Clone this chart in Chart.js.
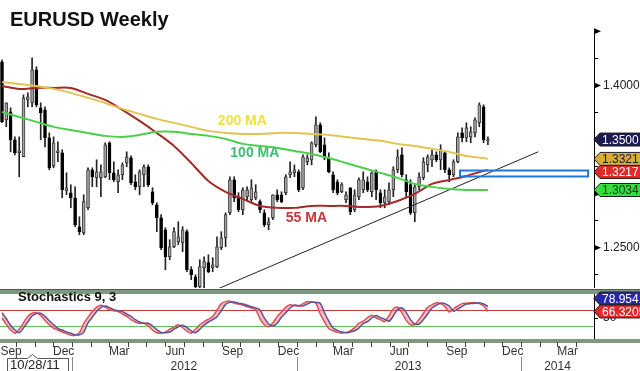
<!DOCTYPE html>
<html>
<head>
<meta charset="utf-8">
<script src="https://cdn.jsdelivr.net/npm/chart.js@4.4.1/dist/chart.umd.min.js"></script>
<style>
  html, body { margin: 0; padding: 0; background: #fff; }
  #wrap { position: relative; width: 640px; height: 371px; overflow: hidden; font-family: "Liberation Sans", Arial, sans-serif; }
  #main { position: absolute; left: 0; top: 0; }
  #stoch { position: absolute; left: 0; top: 288px; }
  .title { position: absolute; left: 10px; top: 9px; font-size: 20px; line-height: 20px; font-weight: bold; color: #111; }
  .stlabel { position: absolute; left: 18px; top: 290px; font-size: 13px; line-height: 13px; font-weight: bold; color: #111; }
</style>
</head>
<body>
<div id="wrap">
  <canvas id="main" width="640" height="288"></canvas>
  <canvas id="stoch" width="640" height="83"></canvas>
  <div class="title">EURUSD Weekly</div>
  <div class="stlabel">Stochastics 9, 3</div>
</div>
<script>
// weekly candles, first one is the week ending Fri 9 Sep 2011
const candleOpen = [
  1.4218, 1.3682, 1.3756, 1.3498, 1.3378, 1.3341, 1.3867, 1.3839, 1.4144, 1.3793,
  1.3775, 1.3516, 1.3258, 1.3378, 1.3378, 1.3027, 1.3009, 1.2962, 1.2695, 1.2639,
  1.2870, 1.3221, 1.3147, 1.3147, 1.3156, 1.3470, 1.3193, 1.3110, 1.3175, 1.3285,
  1.3332, 1.3110, 1.3064, 1.3175, 1.3249, 1.3018, 1.2898, 1.2778, 1.2667, 1.2418,
  1.2510, 1.2556, 1.2547, 1.2649, 1.2298, 1.2233, 1.2141, 1.2316, 1.2363, 1.2316,
  1.2326, 1.2501, 1.2593, 1.2824, 1.3129, 1.2972, 1.2852, 1.2972, 1.2944, 1.2962,
  1.2926, 1.2824, 1.2713, 1.2778, 1.2990, 1.2990, 1.3009, 1.3175, 1.3193, 1.3202,
  1.3055, 1.3295, 1.3313, 1.3452, 1.3636, 1.3452, 1.3332, 1.3175, 1.3110, 1.3018,
  1.2944, 1.3055, 1.2852, 1.2972, 1.3036, 1.3110, 1.3018, 1.3202, 1.3009, 1.2916,
  1.2926, 1.3036, 1.3221, 1.3359, 1.3129, 1.3083, 1.2824, 1.3064, 1.3147, 1.3267,
  1.3313, 1.3359, 1.3313, 1.3378, 1.3221, 1.3175, 1.3295, 1.3562, 1.3516, 1.3525,
  1.3562, 1.3655, 1.3802, 1.3490
];
const candleHigh = [
  1.4236, 1.3839, 1.3793, 1.3525, 1.3525, 1.3913, 1.3932, 1.4255, 1.4172, 1.3839,
  1.3802, 1.3562, 1.3525, 1.3479, 1.3406, 1.3193, 1.3083, 1.3064, 1.2787, 1.2990,
  1.3239, 1.3239, 1.3313, 1.3267, 1.3470, 1.3479, 1.3295, 1.3221, 1.3285, 1.3387,
  1.3350, 1.3175, 1.3221, 1.3267, 1.3267, 1.3055, 1.2916, 1.2806, 1.2686, 1.2575,
  1.2686, 1.2741, 1.2695, 1.2667, 1.2326, 1.2252, 1.2390, 1.2418, 1.2436, 1.2409,
  1.2602, 1.2649, 1.2824, 1.3156, 1.3156, 1.3009, 1.3055, 1.3064, 1.3129, 1.3083,
  1.2944, 1.2852, 1.2778, 1.2990, 1.3036, 1.3018, 1.3175, 1.3295, 1.3267, 1.3221,
  1.3359, 1.3359, 1.3479, 1.3710, 1.3655, 1.3516, 1.3378, 1.3202, 1.3129, 1.3101,
  1.3018, 1.3055, 1.3036, 1.3147, 1.3202, 1.3156, 1.3202, 1.3221, 1.3036, 1.3036,
  1.3101, 1.3249, 1.3406, 1.3424, 1.3175, 1.3129, 1.3083, 1.3193, 1.3332, 1.3359,
  1.3406, 1.3387, 1.3452, 1.3387, 1.3239, 1.3313, 1.3562, 1.3609, 1.3655, 1.3618,
  1.3701, 1.3839, 1.3821, 1.3525
];
const candleLow = [
  1.3655, 1.3618, 1.3387, 1.3359, 1.3156, 1.3341, 1.3802, 1.3802, 1.3802, 1.3498,
  1.3433, 1.3221, 1.3239, 1.3295, 1.2962, 1.2990, 1.2870, 1.2695, 1.2621, 1.2621,
  1.2852, 1.3064, 1.3064, 1.2972, 1.3147, 1.3129, 1.3110, 1.3009, 1.3129, 1.3249,
  1.3083, 1.3036, 1.2990, 1.3064, 1.3064, 1.2898, 1.2649, 1.2483, 1.2298, 1.2390,
  1.2501, 1.2529, 1.2464, 1.2279, 1.2206, 1.2095, 1.2042, 1.2113, 1.2270, 1.2279,
  1.2316, 1.2483, 1.2510, 1.2806, 1.2926, 1.2833, 1.2806, 1.2944, 1.2926, 1.2944,
  1.2824, 1.2695, 1.2667, 1.2759, 1.2926, 1.2916, 1.2990, 1.3147, 1.3156, 1.3018,
  1.3036, 1.3267, 1.3267, 1.3433, 1.3378, 1.3313, 1.3193, 1.3009, 1.2990, 1.3009,
  1.2916, 1.2806, 1.2833, 1.2944, 1.3009, 1.3018, 1.2972, 1.2944, 1.2870, 1.2870,
  1.2898, 1.2972, 1.3193, 1.3156, 1.2972, 1.2806, 1.2741, 1.3036, 1.3129, 1.3202,
  1.3249, 1.3295, 1.3221, 1.3193, 1.3110, 1.3156, 1.3285, 1.3479, 1.3479, 1.3470,
  1.3525, 1.3618, 1.3470, 1.3452
];
const candleClose = [
  1.3664, 1.3839, 1.3498, 1.3378, 1.3396, 1.3885, 1.3895, 1.4144, 1.3821, 1.3747,
  1.3516, 1.3239, 1.3470, 1.3396, 1.3036, 1.3055, 1.2962, 1.2713, 1.2649, 1.2926,
  1.3221, 1.3156, 1.3202, 1.3202, 1.3452, 1.3193, 1.3129, 1.3175, 1.3267, 1.3341,
  1.3101, 1.3064, 1.3202, 1.3249, 1.3083, 1.2916, 1.2778, 1.2501, 1.2418, 1.2510,
  1.2649, 1.2602, 1.2667, 1.2298, 1.2252, 1.2141, 1.2326, 1.2372, 1.2279, 1.2344,
  1.2510, 1.2593, 1.2806, 1.3129, 1.2962, 1.2852, 1.3036, 1.3036, 1.3055, 1.3018,
  1.2852, 1.2713, 1.2741, 1.2990, 1.2944, 1.2926, 1.3156, 1.3202, 1.3221, 1.3036,
  1.3341, 1.3332, 1.3470, 1.3636, 1.3387, 1.3332, 1.3202, 1.3036, 1.3009, 1.3083,
  1.2990, 1.2833, 1.2990, 1.3129, 1.3129, 1.3036, 1.3193, 1.3036, 1.2916, 1.2972,
  1.3036, 1.3221, 1.3341, 1.3175, 1.3018, 1.2824, 1.3064, 1.3156, 1.3295, 1.3341,
  1.3359, 1.3313, 1.3406, 1.3221, 1.3175, 1.3295, 1.3525, 1.3516, 1.3609, 1.3572,
  1.3682, 1.3821, 1.3498, 1.3500
];

// moving averages read every 4th week
const maWeeks = [0, 4, 8, 12, 16, 20, 24, 28, 32, 36, 40, 44, 48, 52, 56, 60, 64, 68, 72, 76,
  80, 84, 88, 92, 96, 100, 104, 108, 112, 113];
const ma200 = [1.4032, 1.4014, 1.3995, 1.3968, 1.3931, 1.3885, 1.3838, 1.3783, 1.3737, 1.3691,
  1.3654, 1.3617, 1.3580, 1.3561, 1.3552, 1.3552, 1.3561, 1.3561, 1.3552, 1.3543,
  1.3524, 1.3506, 1.3488, 1.3460, 1.3441, 1.3414, 1.3386, 1.3349, 1.3330, 1.3321];
const ma100 = [1.3755, 1.3709, 1.3663, 1.3617, 1.3588, 1.3561, 1.3534, 1.3524, 1.3543, 1.3571,
  1.3571, 1.3552, 1.3534, 1.3506, 1.3460, 1.3441, 1.3423, 1.3395, 1.3367, 1.3330,
  1.3284, 1.3238, 1.3192, 1.3146, 1.3090, 1.3063, 1.3044, 1.3035, 1.3035, 1.3034];
const ma55 = [1.3995, 1.3968, 1.3977, 1.3977, 1.3977, 1.3922, 1.3866, 1.3774, 1.3672, 1.3561,
  1.3441, 1.3284, 1.3118, 1.3017, 1.2952, 1.2887, 1.2869, 1.2869, 1.2887, 1.2887,
  1.2887, 1.2878, 1.2887, 1.2933, 1.2998, 1.3090, 1.3127, 1.3164, 1.3211, 1.3217];

// stochastics 9,3 (slow and fast line), one value per candle
const stochSlow = [
  63, 48, 32, 20, 13, 25, 40, 55, 61, 62, 54, 43, 33, 24, 20, 15, 12, 8, 8, 14,
  38, 52, 66, 76, 80, 76, 71, 68, 66, 60, 54, 46, 40, 37, 37, 30, 21, 14, 13, 15,
  22, 28, 32, 26, 18, 13, 22, 32, 40, 46, 53, 68, 84, 89, 90, 87, 85, 82, 78, 75,
  70, 50, 35, 30, 37, 52, 63, 75, 82, 81, 80, 85, 90, 89, 87, 63, 42, 25, 19, 15,
  13, 15, 18, 25, 36, 41, 50, 56, 51, 47, 42, 55, 71, 75, 64, 46, 35, 35, 46, 60,
  75, 82, 87, 86, 80, 67, 72, 79, 85, 86, 87, 88, 85, 78.9541
];
const stochFast = [
  50, 34, 20, 12, 22, 38, 54, 62, 63, 56, 44, 33, 24, 20, 15, 11, 7, 7, 13, 36,
  52, 66, 77, 82, 77, 71, 68, 66, 60, 54, 46, 40, 36, 37, 30, 20, 13, 12, 15, 22,
  28, 33, 26, 17, 12, 22, 33, 41, 47, 54, 70, 86, 91, 92, 87, 85, 82, 78, 75, 70,
  48, 33, 28, 38, 54, 65, 77, 83, 81, 80, 86, 91, 90, 87, 60, 40, 23, 18, 14, 12,
  14, 18, 26, 37, 42, 51, 57, 50, 46, 41, 56, 73, 77, 63, 44, 33, 34, 47, 62, 77,
  83, 88, 86, 79, 65, 73, 80, 86, 87, 88, 89, 86, 80, 66.3205
];
const stochLevels = [70, 30];

// drawn annotations
const trendWeeks = [50.2, 124.7];
const trendPrices = [1.2121, 1.3387];
const zoneWeeks = [106.5, 136.3];
const zonePrices = [1.3159, 1.3214];
const maLabelText = ['200 MA', '100 MA', '55 MA'];
const maLabelWeeks = [55.9, 58.8, 70.8];
const maLabelPrices = [1.3669, 1.3378, 1.2773];

// axis labels
const quarterLabels = ['Sep', 'Dec', 'Mar', 'Jun', 'Sep', 'Dec', 'Mar', 'Jun', 'Sep', 'Dec', 'Mar'];
const quarterStarts = ['2011-09-01', '2011-12-01', '2012-03-01', '2012-06-01', '2012-09-01', '2012-12-01',
  '2013-03-01', '2013-06-01', '2013-09-01', '2013-12-01', '2014-03-01'];
const yearLabels = ['2012', '2013', '2014'];
const yearStarts = ['2012-01-01', '2013-01-01', '2014-01-01'];
const cursorDate = '10/28/11';
const cursorWeek = 7;

const WEEK0 = Date.UTC(2011, 8, 9);
function weekOf(s) {
  const [y, m, d] = s.split('-').map(Number);
  return (Date.UTC(y, m - 1, d) - WEEK0) / (7 * 864e5);
}

const X_MIN = -0.465, X_MAX = 137.67;
const FONT = '"Liberation Sans", Arial, sans-serif';
Chart.defaults.font.family = FONT;
Chart.defaults.color = '#333';

const UP = '#a4a4a4', DOWN = '#000';
const bodyColors = candleClose.map((c, i) => c >= candleOpen[i] ? UP : DOWN);
const bodyBorders = candleClose.map((c, i) => c >= candleOpen[i] ? '#3a3a3a' : '#000');

const YELLOW = '#e2c450', GREEN = '#4ccf4c', RED = '#a52b2b';

// kill the automatic label overhang padding so the plot maps exactly
function noPad(s) { s.paddingTop = 0; s.paddingBottom = 0; s.paddingLeft = 0; s.paddingRight = 0; }

function tag(ctx, x, y, fill, textColor, text) {
  const h = 13, w = 48;
  ctx.save();
  ctx.beginPath();
  ctx.moveTo(x, y);
  ctx.lineTo(x + 6, y - h / 2);
  ctx.lineTo(x + w, y - h / 2);
  ctx.lineTo(x + w, y + h / 2);
  ctx.lineTo(x + 6, y + h / 2);
  ctx.closePath();
  ctx.fillStyle = fill;
  ctx.fill();
  ctx.strokeStyle = '#222';
  ctx.lineWidth = 1;
  ctx.stroke();
  ctx.fillStyle = textColor;
  ctx.font = '12px ' + FONT;
  ctx.textBaseline = 'middle';
  ctx.textAlign = 'left';
  ctx.fillText(text, x + 8, y + 1);
  ctx.restore();
}

const mainDecor = {
  id: 'mainDecor',
  afterDatasetsDraw(chart) {
    const { ctx, scales: { x, y } } = chart;
    // support zone box
    ctx.save();
    ctx.strokeStyle = '#1f78d6';
    ctx.lineWidth = 2;
    const x0 = x.getPixelForValue(zoneWeeks[0]), x1 = x.getPixelForValue(zoneWeeks[1]);
    const y0 = y.getPixelForValue(zonePrices[1]), y1 = y.getPixelForValue(zonePrices[0]);
    ctx.strokeRect(x0, y0, x1 - x0, y1 - y0);
    // MA names
    const cols = ['#f0e040', '#3cbd72', '#c4353a'];
    ctx.font = 'bold 14px ' + FONT;
    ctx.textAlign = 'center';
    ctx.textBaseline = 'middle';
    maLabelText.forEach((t, i) => {
      ctx.fillStyle = cols[i];
      ctx.fillText(t, x.getPixelForValue(maLabelWeeks[i]), y.getPixelForValue(maLabelPrices[i]));
    });
    ctx.restore();
  },
  afterDraw(chart) {
    const { ctx, scales: { y } } = chart;
    const ax = chart.chartArea.right;
    ctx.save();
    ctx.fillStyle = '#000';
    y.ticks.forEach(t => {
      if (Math.abs(t.value * 20 - Math.round(t.value * 20)) < 1e-6) {
        const py = y.getPixelForValue(t.value);
        ctx.beginPath();
        ctx.moveTo(ax, py - 3);
        ctx.lineTo(ax + 7, py);
        ctx.lineTo(ax, py + 3);
        ctx.closePath();
        ctx.fill();
      }
    });
    ctx.restore();
    const tags = [
      [candleClose[candleClose.length - 1], '#1b1b52', '#fff'],
      [ma200[ma200.length - 1], '#d6ae36', '#1a1a40'],
      [ma55[ma55.length - 1], '#e22828', '#fff'],
      [ma100[ma100.length - 1], '#34de3c', '#163816']
    ];
    let prev = -100;
    tags.forEach(([v, f, c]) => {
      const py = Math.max(y.getPixelForValue(v), prev + 13);
      prev = py;
      tag(ctx, ax, py, f, c, v.toFixed(4));
    });
  }
};

new Chart(document.getElementById('main'), {
  type: 'bar',
  data: {
    datasets: [
      { type: 'line', data: maWeeks.map((w, i) => ({ x: w, y: ma200[i] })), borderColor: YELLOW, borderWidth: 2, pointRadius: 0, tension: 0.3, order: 0 },
      { type: 'line', data: maWeeks.map((w, i) => ({ x: w, y: ma100[i] })), borderColor: GREEN, borderWidth: 2, pointRadius: 0, tension: 0.3, order: 0 },
      { type: 'line', data: maWeeks.map((w, i) => ({ x: w, y: ma55[i] })), borderColor: RED, borderWidth: 2, pointRadius: 0, tension: 0.3, order: 0 },
      { type: 'line', data: trendWeeks.map((w, i) => ({ x: w, y: trendPrices[i] })), borderColor: '#222', borderWidth: 1, pointRadius: 0, order: 0 },
      {
        data: candleOpen.map((o, i) => ({ x: i, y: [o, candleClose[i]] })),
        backgroundColor: bodyColors, borderColor: bodyBorders, borderWidth: 1, borderSkipped: false,
        barThickness: 3, grouped: false, minBarLength: 1, order: 1
      },
      {
        data: candleLow.map((l, i) => ({ x: i, y: [l, candleHigh[i]] })),
        backgroundColor: '#222', barThickness: 1, grouped: false, order: 2
      }
    ]
  },
  options: {
    responsive: false,
    animation: false,
    layout: { padding: { top: 29, left: 0, right: 0, bottom: 0 } },
    plugins: { legend: { display: false }, tooltip: { enabled: false } },
    scales: {
      x: { type: 'linear', min: X_MIN, max: X_MAX, offset: false, display: false },
      y: {
        position: 'right', min: 1.2129, max: 1.4521,
        afterBuildTicks(s) {
          const t = [];
          for (let k = 0; k <= 9; k++) t.push({ value: +(1.225 + k * 0.025).toFixed(3) });
          s.ticks = t;
        },
        afterFit(s) { s.width = 46; noPad(s); },
        ticks: {
          padding: 5, color: '#222', font: { size: 12 },
          callback: v => (Math.abs(v * 20 - Math.round(v * 20)) < 1e-6 && v < 1.44) ? v.toFixed(4) : ''
        },
        grid: { drawOnChartArea: false, tickLength: 4, color: '#000' },
        border: { display: true, color: '#000' }
      }
    }
  },
  plugins: [mainDecor]
});

const stochDecor = {
  id: 'stochDecor',
  beforeDatasetsDraw(chart) {
    const { ctx, chartArea: a, scales: { y } } = chart;
    ctx.save();
    ['#c43b3b', '#5cc05c'].forEach((c, i) => {
      const py = Math.round(y.getPixelForValue(stochLevels[i])) + 0.5;
      ctx.strokeStyle = c;
      ctx.lineWidth = 1;
      ctx.beginPath();
      ctx.moveTo(a.left, py);
      ctx.lineTo(a.right, py);
      ctx.stroke();
    });
    ctx.restore();
  },
  afterDraw(chart) {
    const { ctx, chartArea: a, scales: { x, y } } = chart;
    ctx.save();
    // panel bands
    ctx.fillStyle = '#555';
    ctx.fillRect(0, 1, 640, 1);
    ctx.fillStyle = '#7e9a7e';
    ctx.fillRect(0, 2, 640, 4);
    ctx.fillRect(0, a.bottom, 640, 4);
    // month boundary ticks
    ctx.strokeStyle = '#444';
    ctx.lineWidth = 1;
    for (let yy = 2011, m = 10; ; m++) {
      if (m > 12) { m = 1; yy++; }
      if (yy === 2014 && m > 4) break;
      const w = weekOf(yy + '-' + String(m).padStart(2, '0') + '-01');
      if (w > X_MIN && w < X_MAX) {
        const px = Math.round(x.getPixelForValue(w)) + 0.5;
        ctx.beginPath();
        ctx.moveTo(px, a.bottom + 3);
        ctx.lineTo(px, a.bottom + 8);
        ctx.stroke();
      }
    }
    // year separators
    ctx.strokeStyle = '#888';
    yearStarts.forEach(s => {
      const px = Math.round(x.getPixelForValue(weekOf(s))) + 0.5;
      ctx.beginPath();
      ctx.moveTo(px, 69);
      ctx.lineTo(px, 83);
      ctx.stroke();
    });
    // cursor date box
    const cx = Math.round(x.getPixelForValue(cursorWeek)) + 0.5;
    ctx.strokeStyle = '#555';
    ctx.beginPath();
    ctx.moveTo(7.5, 84);
    ctx.lineTo(7.5, 70.5);
    ctx.lineTo(cx - 5, 70.5);
    ctx.lineTo(cx, 66.5);
    ctx.lineTo(cx + 5, 70.5);
    ctx.lineTo(68.5, 70.5);
    ctx.lineTo(68.5, 84);
    ctx.stroke();
    ctx.fillStyle = '#222';
    ctx.font = '13px ' + FONT;
    ctx.textAlign = 'left';
    ctx.textBaseline = 'alphabetic';
    ctx.fillText(cursorDate, 10, 81);
    ctx.restore();
    // value tags
    const ax = a.right;
    const fy = y.getPixelForValue(stochFast[stochFast.length - 1]);
    let sy = y.getPixelForValue(stochSlow[stochSlow.length - 1]);
    if (sy > fy - 13) sy = fy - 13;
    tag(ctx, ax, sy, '#2626a6', '#fff', stochSlow[stochSlow.length - 1].toFixed(4));
    tag(ctx, ax, fy, '#e02a2a', '#fff', stochFast[stochFast.length - 1].toFixed(4));
  }
};

new Chart(document.getElementById('stoch'), {
  type: 'line',
  data: {
    datasets: [
      { data: stochSlow.map((v, i) => ({ x: i, y: v })), borderColor: '#5c5294', borderWidth: 1.5, pointRadius: 0, tension: 0.3, fill: false },
      { data: stochFast.map((v, i) => ({ x: i, y: v })), borderColor: '#e0505a', borderWidth: 1.5, pointRadius: 0, tension: 0.3,
        fill: '-1', backgroundColor: 'rgba(240,140,140,0.55)' }
    ]
  },
  options: {
    responsive: false,
    animation: false,
    layout: { padding: { top: 6, left: 0, right: 0, bottom: 0 } },
    plugins: { legend: { display: false }, tooltip: { enabled: false } },
    scales: {
      x: {
        type: 'linear', min: X_MIN, max: X_MAX, offset: false, position: 'bottom', weight: 0,
        afterBuildTicks(s) { s.ticks = quarterStarts.map(d => ({ value: Math.max(weekOf(d), X_MIN + 0.1) })); },
        afterFit(s) { s.height = 20; noPad(s); },
        grid: { display: false, drawTicks: false, tickLength: 0 },
        border: { display: false },
        ticks: { align: 'start', padding: 5, autoSkip: false, maxRotation: 0, color: '#333', font: { size: 12 },
          callback: (v, i) => quarterLabels[i] }
      },
      xy: {
        type: 'linear', axis: 'x', min: X_MIN, max: X_MAX, offset: false, position: 'bottom', weight: 1,
        afterBuildTicks(s) {
          s.ticks = [
            { value: weekOf('2012-07-01') },
            { value: weekOf('2013-07-01') },
            { value: (weekOf(yearStarts[2]) + X_MAX) / 2 }
          ];
        },
        afterFit(s) { s.height = 12; noPad(s); },
        grid: { display: false, drawTicks: false, tickLength: 0 },
        border: { display: false },
        ticks: { padding: 0, autoSkip: false, maxRotation: 0, color: '#333', font: { size: 12 },
          callback: (v, i) => yearLabels[i] }
      },
      y: {
        position: 'right', min: -2.5, max: 110,
        afterBuildTicks(s) { s.ticks = [{ value: 50 }]; },
        afterFit(s) { s.width = 46; noPad(s); },
        ticks: { padding: 5, color: '#222', font: { size: 12 }, callback: v => String(v) },
        grid: { drawOnChartArea: false, tickLength: 4, color: '#000' },
        border: { display: true, color: '#000' }
      }
    }
  },
  plugins: [stochDecor]
});
</script>
</body>
</html>
